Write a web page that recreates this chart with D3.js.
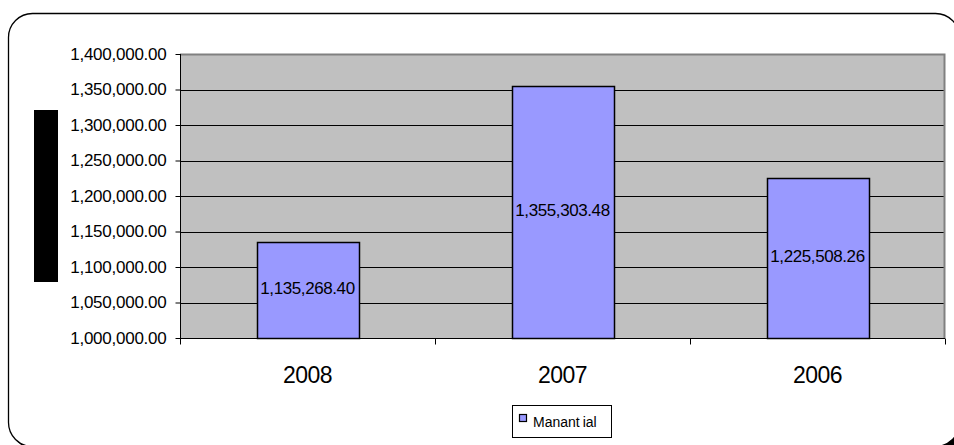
<!DOCTYPE html>
<html>
<head>
<meta charset="utf-8">
<script src="https://cdn.jsdelivr.net/npm/d3@7"></script>
<style>
  html, body { margin: 0; padding: 0; background: #ffffff; }
  svg { display: block; font-family: "Liberation Sans", Arial, sans-serif; }
</style>
</head>
<body>
<svg id="chart" width="954" height="445"></svg>
<script>
// Annual totals per year
const years = ["2008", "2007", "2006"];
const values = [1135268.40, 1355303.48, 1225508.26];
const seriesName = "Manantial";
const yTicks = [1000000, 1050000, 1100000, 1150000, 1200000, 1250000, 1300000, 1350000, 1400000];

const svg = d3.select("#chart");
const plot = { left: 180, right: 945, top: 54, bottom: 338 };

// Rounded outer frame with a dark drop shadow
const frame = { x: 8.5, y: 13.5, w: 951, h: 433, r: 24 };
svg.append("rect")
  .attr("x", frame.x + 4).attr("y", frame.y + 4)
  .attr("width", frame.w).attr("height", frame.h)
  .attr("rx", frame.r).attr("ry", frame.r)
  .attr("fill", "#000000");
svg.append("rect")
  .attr("x", frame.x).attr("y", frame.y)
  .attr("width", frame.w).attr("height", frame.h)
  .attr("rx", frame.r).attr("ry", frame.r)
  .attr("fill", "#ffffff")
  .attr("stroke", "#000000").attr("stroke-width", 1.3);

const x = d3.scaleBand().domain(years).range([plot.left, plot.right]).paddingInner(0.6).paddingOuter(0.3);
const xStep = (plot.right - plot.left) / years.length;
const y = d3.scaleLinear().domain([1000000, 1400000]).range([plot.bottom, plot.top]);

// Plot background
svg.append("rect")
  .attr("x", plot.left).attr("y", plot.top)
  .attr("width", plot.right - plot.left).attr("height", plot.bottom - plot.top)
  .attr("fill", "#c0c0c0");

// Gridlines
svg.append("g").selectAll("line")
  .data(yTicks.filter(t => t > 1000000 && t < 1400000))
  .join("line")
  .attr("x1", plot.left).attr("x2", plot.right)
  .attr("y1", d => Math.round(y(d)) + 0.5).attr("y2", d => Math.round(y(d)) + 0.5)
  .attr("stroke", "#000000").attr("stroke-width", 1);

// Plot border top/right
svg.append("path")
  .attr("d", `M${plot.left},${plot.top + 0.5}H${plot.right - 0.5}V${plot.bottom}`)
  .attr("fill", "none").attr("stroke", "#808080").attr("stroke-width", 2);

// Bars
svg.append("g").selectAll("rect")
  .data(years)
  .join("rect")
  .attr("x", d => Math.round(x(d)) + 0.5)
  .attr("y", (d, i) => Math.round(y(values[i])) + 0.5)
  .attr("width", Math.round(x.bandwidth()))
  .attr("height", (d, i) => Math.round(plot.bottom - y(values[i])))
  .attr("fill", "#9999ff")
  .attr("stroke", "#000000").attr("stroke-width", 1.5);

// Value labels inside bars
const fmt = d3.format(",.2f");
svg.append("g").selectAll("text")
  .data(years)
  .join("text")
  .attr("x", d => x(d) + x.bandwidth() / 2)
  .attr("y", (d, i) => (y(values[i]) + plot.bottom) / 2 + 4)
  .attr("text-anchor", "middle")
  .attr("font-size", 17)
  .attr("letter-spacing", -0.4)
  .attr("fill", "#000000")
  .text((d, i) => fmt(values[i]));

// Y axis
const yAxis = d3.axisLeft(y).tickValues(yTicks).tickSize(5).tickPadding(9)
  .tickFormat(d => fmt(d));
const gy = svg.append("g").attr("transform", `translate(${plot.left + 0.5},0)`).call(yAxis);
gy.select(".domain").attr("stroke", "#000000").attr("d", `M0,${plot.top}V${plot.bottom}`);
gy.selectAll(".tick line").attr("stroke", "#000000");
gy.selectAll(".tick text")
  .attr("font-family", "Liberation Sans, Arial, sans-serif")
  .attr("font-size", 17).attr("letter-spacing", -0.25).attr("fill", "#000000");

// X axis
const gx = svg.append("g").attr("transform", `translate(0,${plot.bottom + 0.5})`);
gx.append("line").attr("x1", plot.left).attr("x2", plot.right).attr("stroke", "#000000");
gx.selectAll("line.tk")
  .data(d3.range(years.length + 1))
  .join("line").attr("class", "tk")
  .attr("x1", i => Math.round(plot.left + i * xStep) + 0.5)
  .attr("x2", i => Math.round(plot.left + i * xStep) + 0.5)
  .attr("y1", 0).attr("y2", 6)
  .attr("stroke", "#000000");
gx.selectAll("text")
  .data(years)
  .join("text")
  .attr("x", d => x(d) + x.bandwidth() / 2)
  .attr("y", 44)
  .attr("text-anchor", "middle")
  .attr("font-size", 23).attr("letter-spacing", -0.5)
  .attr("fill", "#000000")
  .text(d => d);

// Black block left of the axis (axis title area)
svg.append("rect")
  .attr("x", 34).attr("y", 110).attr("width", 24).attr("height", 172)
  .attr("fill", "#000000");

// Legend
const lg = svg.append("g");
lg.append("rect")
  .attr("x", 512.5).attr("y", 405.5).attr("width", 99).attr("height", 32)
  .attr("fill", "#ffffff").attr("stroke", "#000000").attr("stroke-width", 1);
lg.append("rect")
  .attr("x", 519.5).attr("y", 414.5).attr("width", 7).attr("height", 7)
  .attr("fill", "#9999ff").attr("stroke", "#000000").attr("stroke-width", 1.2);
const lt = lg.append("text")
  .attr("x", 533).attr("y", 427)
  .attr("font-size", 14)
  .attr("fill", "#000000");
lt.append("tspan").text(seriesName.slice(0, 6));
lt.append("tspan").attr("dx", 3).text(seriesName.slice(6));
</script>
</body>
</html>
